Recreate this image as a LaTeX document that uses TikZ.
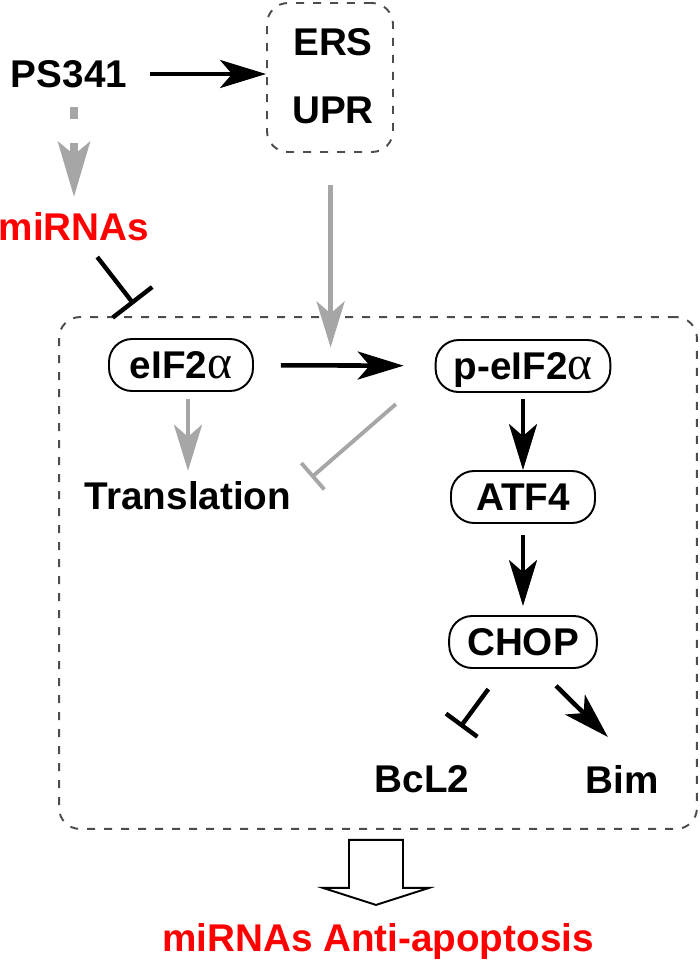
\documentclass[tikz,border=0pt]{standalone}
\usepackage{fontspec}
\setmainfont{Liberation Sans}
\newfontfamily\greekfont{Liberation Serif}
\usetikzlibrary{arrows.meta,positioning}

\newcommand{\alphaglyph}{{\greekfont\mdseries\fontsize{27}{26}\selectfont α}}

\tikzset{
	lbl/.style={font=\fontsize{22}{26}\selectfont\bfseries, inner sep=0pt, text height=15.8pt, text depth=0pt},
	redlbl/.style={lbl, text=red},
	pbox/.style={lbl, draw, line width=1.1pt, rounded corners=0.46cm, inner xsep=0.36cm, minimum width=2.88cm, minimum height=1.04cm},
	dashbox/.style={draw=black!70, line width=1.1pt, dash pattern=on 0.16cm off 0.18cm, rounded corners=0.42cm},
	act/.style={line width=2.6pt, -{Stealth[length=0.92cm, width=0.56cm, inset=0.24cm]}},
	grayact/.style={act, color=black!35},
	graydash/.style={color=black!35, line width=4pt, dash pattern=on 0.24cm off 0.48cm, -{Stealth[length=1.1cm, width=0.64cm, inset=0.26cm]}},
	inh/.style={line width=2.5pt, -{Bar[width=#1]}},
	grayinh/.style={inh=#1, color=black!35, line width=2.2pt}
}

\begin{document}
\begin{tikzpicture}[x=0.02cm, y=-0.02cm]
	%\draw[help lines] (0,0) grid[step=50] (700,961);
	\useasboundingbox (0,0) rectangle (700,961);
	
	\node[lbl] (ps) at (69,74) {PS341};
	\node[dashbox, minimum width=2.52cm, minimum height=2.98cm] (stress) at (330,77.5) {};
	\node[lbl] (ers) at (333,42) {ERS};
	\node[lbl] (upr) at (333,110) {UPR};
	\node[redlbl] (mir) at (74,227) {miRNAs};
	
	\node[dashbox, minimum width=12.76cm, minimum height=10.24cm] (frame) at (378,573) {};
	\node[pbox] (eif) at (181,365) {eIF2\alphaglyph};
	\node[pbox] (peif) at (523,366) {p-eIF2\alphaglyph};
	\node[pbox] (atf) at (523,497) {ATF4};
	\node[pbox] (chop) at (523,642) {CHOP};
	\node[lbl] (trans) at (188,496) {Translation};
	\node[lbl] (bcl) at (422,779) {BcL2};
	\node[lbl] (bim) at (622,780) {Bim};
	\node[redlbl] (out) at (378,938) {miRNAs Anti-apoptosis};
	
	% upstream
	\draw[act, shorten <=0.46cm] (ps) -- (ps -| stress.west);
	\draw[graydash, shorten <=0.38cm, shorten >=0.32cm] (mir.north |- ps.south) -- (mir.north);
	\draw[inh=1cm, shorten <=0.4cm, shorten >=0.86cm] (mir) -- (eif);
	
	% inside the frame
	\draw[act, shorten <=0.54cm, shorten >=0.62cm] (eif) -- coordinate[pos=0.424] (hit) (peif);
	\draw[grayact, shorten <=0.64cm, shorten >=0.36cm] (hit |- stress.south) -- (hit);
	\draw[grayact, shorten <=0.14cm, shorten >=0.22cm] (eif.south -| trans) -- (trans.north);
	\draw[grayinh=0.7cm, shorten <=0.34cm, shorten >=0.13cm] ([shift={(-26,0)}]peif.south west) -- ([shift={(15,0)}]trans.north east);
	\draw[act, shorten <=0.12cm] (peif) -- (atf);
	\draw[act, shorten <=0.22cm, shorten >=0.18cm] (atf) -- (chop);
	\draw[inh=0.78cm, shorten <=0.5cm, shorten >=0.94cm] (chop) -- (bcl);
	\draw[act, shorten <=0.48cm, shorten >=0.82cm] ([shift={(16,0)}]chop.south) -- ([shift={(15,0)}]bim.north);
	
	% result
	\draw[line width=1.1pt] ([shift={(-29,10)}]frame.south) -- ++(54,0) -- ++(0,48) -- ++(26,0)
		-- ++(-53,17) -- ++(-53,-17) -- ++(26,0) -- cycle;
\end{tikzpicture}
\end{document}
